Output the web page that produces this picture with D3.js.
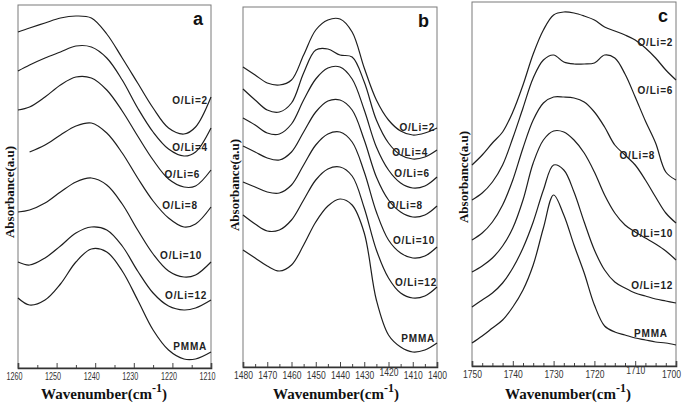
<!DOCTYPE html>
<html>
<head>
<meta charset="utf-8">
<script src="https://cdn.jsdelivr.net/npm/d3@7"></script>
<style>
  html, body { margin: 0; padding: 0; background: #fff; }
  svg { display: block; }
</style>
</head>
<body>
<script>
// ---------------- DATA ----------------
// Panel a : 1260-1210 cm-1
const waveA = [1260, 1257, 1253, 1249, 1245, 1241, 1237, 1233, 1229, 1225, 1221, 1217, 1214, 1210];
const a_OLi2  = [3.36, 3.40, 3.45, 3.50, 3.52, 3.50, 3.34, 3.10, 2.85, 2.60, 2.40, 2.34, 2.41, 2.71];
const a_OLi4  = [2.97, 3.03, 3.10, 3.16, 3.22, 3.21, 3.10, 2.88, 2.60, 2.36, 2.19, 2.12, 2.16, 2.40];
const a_OLi6  = [2.58, 2.61, 2.71, 2.83, 2.91, 2.90, 2.78, 2.57, 2.32, 2.08, 1.89, 1.81, 1.82, 1.98];
const a_OLi8  = [null, 2.16, 2.23, 2.33, 2.42, 2.45, 2.35, 2.15, 1.90, 1.67, 1.50, 1.41, 1.44, 1.61];
const a_OLi10 = [1.56, 1.58, 1.65, 1.76, 1.86, 1.90, 1.83, 1.64, 1.38, 1.14, 0.97, 0.91, 0.93, 1.06];
const a_OLi12 = [1.06, 1.03, 1.10, 1.22, 1.35, 1.41, 1.38, 1.22, 0.97, 0.75, 0.62, 0.58, 0.60, 0.68];
const a_PMMA  = [0.70, 0.63, 0.68, 0.84, 1.06, 1.19, 1.16, 0.97, 0.68, 0.38, 0.18, 0.09, 0.09, 0.16];
const namesA = ["O/Li=2", "O/Li=4", "O/Li=6", "O/Li=8", "O/Li=10", "O/Li=12", "PMMA"];
const labelWnA  = [1210.8, 1210.8, 1212.8, 1213.4, 1212.3, 1211.0, 1211.0];
const labelAbsA = [2.68, 2.21, 1.94, 1.63, 1.13, 0.73, 0.22];
const ticksA = [1260, 1250, 1240, 1230, 1220, 1210];

// Panel b : 1480-1400 cm-1
const waveB = [1480, 1475, 1470, 1465, 1460, 1455, 1450, 1445, 1440, 1435, 1430, 1425, 1420, 1415, 1410, 1405, 1400];
const b_OLi2  = [3.00, 2.92, 2.84, 2.82, 2.87, 3.12, 3.37, 3.47, 3.48, 3.35, 2.99, 2.67, 2.47, 2.36, 2.32, 2.34, 2.39];
const b_OLi4  = [2.78, 2.67, 2.57, 2.55, 2.64, 2.94, 3.17, 3.18, 3.12, 3.10, 2.85, 2.47, 2.24, 2.12, 2.08, 2.10, 2.17];
const b_OLi6  = [2.49, 2.42, 2.34, 2.33, 2.43, 2.67, 2.88, 2.99, 3.00, 2.88, 2.57, 2.20, 1.97, 1.84, 1.79, 1.81, 1.90];
const b_OLi8  = [2.21, 2.15, 2.09, 2.07, 2.15, 2.35, 2.55, 2.66, 2.67, 2.57, 2.27, 1.90, 1.67, 1.55, 1.50, 1.52, 1.61];
const b_OLi10 = [1.85, 1.80, 1.75, 1.74, 1.82, 2.02, 2.22, 2.33, 2.35, 2.25, 1.95, 1.55, 1.27, 1.14, 1.09, 1.11, 1.20];
const b_OLi12 = [1.52, 1.43, 1.36, 1.37, 1.47, 1.67, 1.87, 1.98, 2.00, 1.91, 1.59, 1.17, 0.89, 0.74, 0.69, 0.71, 0.80];
const b_PMMA  = [1.17, 1.09, 1.01, 0.96, 1.02, 1.22, 1.45, 1.61, 1.68, 1.62, 1.34, 0.67, 0.32, 0.20, 0.15, 0.17, 0.24];
const namesB = ["O/Li=2", "O/Li=4", "O/Li=6", "O/Li=8", "O/Li=10", "O/Li=12", "PMMA"];
const labelWnB  = [1400.8, 1403.7, 1402.9, 1405.8, 1400.8, 1400.0, 1400.8];
const labelAbsB = [2.40, 2.15, 1.94, 1.62, 1.27, 0.85, 0.29];
const ticksB = [1480, 1470, 1460, 1450, 1440, 1430, 1420, 1410, 1400];

// Panel c : 1750-1700 cm-1
const waveC = [1750, 1747.5, 1745, 1742.5, 1740, 1737.5, 1735, 1732.5, 1730, 1727.5, 1725, 1722.5, 1720, 1717.5, 1715, 1712.5, 1710, 1707.5, 1705, 1702.5, 1700];
const c_OLi2  = [2.01, 2.11, 2.23, 2.34, 2.54, 2.81, 3.12, 3.36, 3.51, 3.54, 3.53, 3.50, 3.46, 3.39, 3.35, 3.31, 3.26, 3.18, 3.08, 2.96, 2.86];
const c_OLi6  = [1.66, 1.73, 1.84, 2.01, 2.28, 2.58, 2.88, 3.06, 3.11, 3.04, 3.02, 3.02, 3.03, 3.11, 3.08, 2.92, 2.69, 2.45, 2.23, 1.94, 1.86];
const c_OLi8  = [1.26, 1.33, 1.44, 1.61, 1.86, 2.18, 2.46, 2.63, 2.69, 2.69, 2.68, 2.64, 2.54, 2.39, 2.21, 2.11, 2.01, 1.86, 1.69, 1.53, 1.43];
const c_OLi10 = [0.94, 1.00, 1.08, 1.20, 1.38, 1.66, 2.03, 2.26, 2.35, 2.34, 2.26, 2.13, 1.94, 1.71, 1.53, 1.41, 1.34, 1.28, 1.22, 1.15, 1.06];
const c_OLi12 = [0.59, 0.66, 0.73, 0.83, 0.98, 1.18, 1.44, 1.76, 2.01, 1.96, 1.74, 1.44, 1.16, 0.96, 0.84, 0.78, 0.73, 0.70, 0.67, 0.65, 0.63];
const c_PMMA  = [0.23, 0.30, 0.38, 0.46, 0.59, 0.76, 1.01, 1.38, 1.71, 1.51, 1.21, 0.93, 0.61, 0.40, 0.34, 0.31, 0.28, 0.26, 0.24, 0.23, 0.21];
const namesC = ["O/Li=2", "O/Li=6", "O/Li=8", "O/Li=10", "O/Li=12", "PMMA"];
const labelWnC  = [1700.7, 1700.7, 1705.1, 1700.7, 1700.7, 1702.0];
const labelAbsC = [3.24, 2.76, 2.11, 1.33, 0.81, 0.33];
const ticksC = [1750, 1740, 1730, 1720, 1710, 1700];

// ---------------- LAYOUT ----------------
const panels = [
  { letter: "a", wave: waveA, series: [a_OLi2, a_OLi4, a_OLi6, a_OLi8, a_OLi10, a_OLi12, a_PMMA],
    names: namesA, lwn: labelWnA, labs: labelAbsA, ticks: ticksA, minorStep: 5,
    left: 18, right: 211, top: 5, bottom: 368, ymax: 3.63, tickLen: 16, tickDx: -4,
    raised: null, raiseBy: 0, ytitleX: 9, ytitleY: 192, xtitleX: 104 },
  { letter: "b", wave: waveB, series: [b_OLi2, b_OLi4, b_OLi6, b_OLi8, b_OLi10, b_OLi12, b_PMMA],
    names: namesB, lwn: labelWnB, labs: labelAbsB, ticks: ticksB, minorStep: 5,
    left: 243, right: 437, top: 7, bottom: 367, ymax: 3.60, tickLen: 19, tickDx: 0,
    raised: 1420, raiseBy: 3, ytitleX: 234, ytitleY: 185, xtitleX: 336 },
  { letter: "c", wave: waveC, series: [c_OLi2, c_OLi6, c_OLi8, c_OLi10, c_OLi12, c_PMMA],
    names: namesC, lwn: labelWnC, labs: labelAbsC, ticks: ticksC, minorStep: 2.5,
    left: 472, right: 676, top: 2, bottom: 366, ymax: 3.64, tickLen: 19, tickDx: 0,
    raised: 1710, raiseBy: 4, ytitleX: 463, ytitleY: 177, xtitleX: 568 }
];

const svg = d3.select("body").append("svg").attr("width", 685).attr("height", 405);

panels.forEach(p => {
  const x = d3.scaleLinear().domain([p.wave[0], p.wave[p.wave.length - 1]]).range([p.left, p.right]);
  const y = d3.scaleLinear().domain([0, p.ymax]).range([p.bottom, p.top]);

  // frame
  svg.append("rect")
    .attr("x", p.left).attr("y", p.top)
    .attr("width", p.right - p.left).attr("height", p.bottom - p.top)
    .attr("fill", "none").attr("stroke", "#7a7a7a").attr("stroke-width", 1);

  // minor ticks
  const d0 = d3.min(p.ticks), d1 = d3.max(p.ticks);
  const minor = d3.range(d0, d1 + 0.001, p.minorStep).filter(v => !p.ticks.includes(v));
  svg.append("g").attr("transform", `translate(0,${p.bottom})`)
    .call(d3.axisBottom(x).tickValues(minor).tickSize(-3).tickFormat(""))
    .call(g => g.select(".domain").remove())
    .selectAll("line").attr("stroke", "#444");

  // major axis
  const lastTick = p.ticks[p.ticks.length - 1];
  const gx = svg.append("g").attr("transform", `translate(0,${p.bottom})`)
    .call(d3.axisBottom(x).tickValues(p.ticks).tickSize(-5).tickPadding(5).tickFormat(d3.format("d")));
  gx.select(".domain").attr("stroke", "#333").attr("stroke-width", 1.6);
  gx.selectAll("line").attr("stroke", "#444");
  gx.selectAll("text")
    .attr("font-family", "'Liberation Sans', Arial, sans-serif")
    .attr("font-size", 10).attr("fill", "#333")
    .attr("textLength", p.tickLen).attr("lengthAdjust", "spacingAndGlyphs")
    .attr("dx", d => (d === lastTick && p.letter === "c") ? -5 : p.tickDx)
    .attr("y", d => d === p.raised ? 5 - p.raiseBy : 5);

  // curves
  const line = d3.line()
    .defined(d => d[1] != null)
    .x(d => x(d[0])).y(d => y(d[1]))
    .curve(d3.curveCatmullRom.alpha(0.5));
  p.series.forEach(s => {
    svg.append("path")
      .datum(p.wave.map((w, i) => [w, s[i]]))
      .attr("d", line)
      .attr("fill", "none").attr("stroke", "#1e1e1e").attr("stroke-width", 1.2);
  });

  // curve labels
  p.names.forEach((n, i) => {
    svg.append("text")
      .attr("x", x(p.lwn[i])).attr("y", y(p.labs[i]))
      .attr("text-anchor", "end").attr("dominant-baseline", "central")
      .attr("font-family", "'Liberation Sans', Arial, sans-serif")
      .attr("font-weight", "bold").attr("font-size", 10)
      .attr("letter-spacing", "0.8px").attr("fill", "#222")
      .text(n);
  });

  // panel letter
  svg.append("text")
    .attr("x", p.right - 8).attr("y", p.top + 20)
    .attr("text-anchor", "end")
    .attr("font-family", "'Liberation Sans', Arial, sans-serif")
    .attr("font-weight", "bold").attr("font-size", 18).attr("fill", "#111")
    .text(p.letter);

  // x title
  const xt = svg.append("text")
    .attr("x", p.xtitleX).attr("y", 399)
    .attr("text-anchor", "middle")
    .attr("font-family", "'Liberation Serif', 'Times New Roman', serif")
    .attr("font-weight", "bold").attr("font-size", 15).attr("fill", "#111");
  xt.append("tspan").text("Wavenumber(cm");
  xt.append("tspan").attr("dy", -7).attr("font-size", 12).text("-1");
  xt.append("tspan").attr("dy", 7).text(")");

  // y title
  svg.append("text")
    .attr("transform", `translate(${p.ytitleX},${p.ytitleY}) rotate(-90)`)
    .attr("text-anchor", "middle").attr("dominant-baseline", "central")
    .attr("font-family", "'Liberation Serif', 'Times New Roman', serif")
    .attr("font-weight", "bold").attr("font-size", 13).attr("fill", "#111")
    .text("Absorbance(a.u)");
});
</script>
</body>
</html>
